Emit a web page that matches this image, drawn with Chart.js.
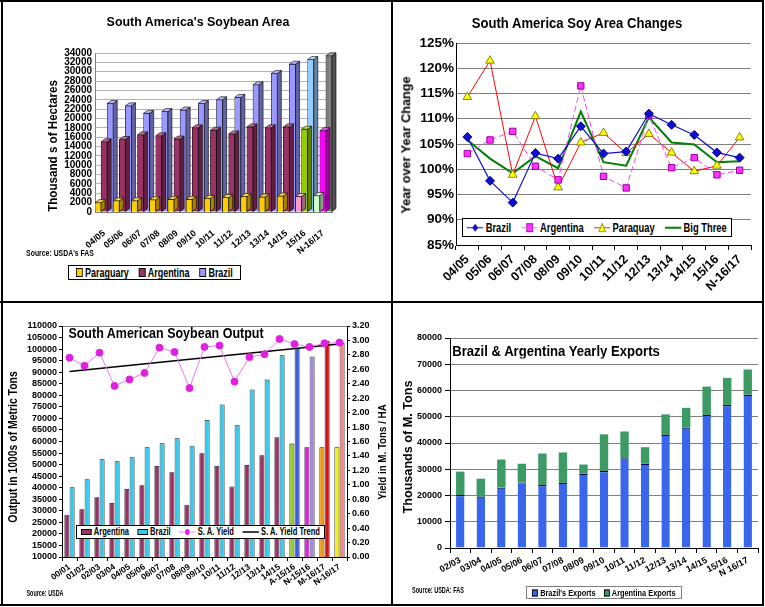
<!DOCTYPE html>
<html>
<head>
<meta charset="utf-8">
<script src="https://cdn.jsdelivr.net/npm/chart.js@4.4.1/dist/chart.umd.min.js"></script>
<style>
html, body { margin: 0; padding: 0; background: #fff; }
#page { position: relative; width: 765px; height: 607px; overflow: hidden; font-family: "Liberation Sans", Arial, sans-serif; }
#page canvas { position: absolute; }
.rule { position: absolute; background: #000; }
.t { position: absolute; white-space: nowrap; font-weight: bold; line-height: 1; color: #000; transform-origin: center center; }
.lg { position: absolute; border: 1px solid #000; background: #fff; box-sizing: border-box; overflow: hidden; }
.lgi { position: absolute; display: flex; align-items: center; white-space: nowrap; font-weight: bold; line-height: 1; transform-origin: left center; }
</style>
</head>
<body>
<div id="page">
  <canvas id="area" width="388" height="299" style="left:3px;top:2px"></canvas>
  <canvas id="change" width="367" height="300" style="left:394px;top:2px"></canvas>
  <canvas id="output" width="388" height="300" style="left:3px;top:304px"></canvas>
  <canvas id="exports" width="367" height="300" style="left:394px;top:304px"></canvas>
</div>
<script>
// soybean area, 1000 ha
const areaYears = ['04/05', '05/06', '06/07', '07/08', '08/09', '09/10', '10/11', '11/12', '12/13', '13/14', '14/15', '15/16', 'N-16/17'];
const areaParaguay = [2000, 2400, 2400, 2600, 2700, 2700, 2900, 3100, 3300, 3200, 3400, 3300, 3500];
const areaArgentina = [15000, 15500, 16500, 16300, 15600, 18000, 17500, 16700, 18200, 18000, 18200, 17700, 17400];
const areaBrazil = [23200, 22700, 21100, 21500, 21800, 23200, 24000, 24500, 27200, 29600, 31600, 32600, 33400];

// year over year change, %
const chgBrazil = [106.4, 97.7, 93.4, 103.2, 102.1, 108.5, 103.1, 103.5, 111.0, 108.8, 106.8, 103.3, 102.3];
const chgArgentina = [103.1, 105.8, 107.5, 100.6, 97.9, 116.5, 98.6, 96.3, 110.6, 100.3, 102.3, 98.9, 99.8];
const chgParaguay = [114.3, 121.5, 98.9, 110.5, 96.4, 105.3, 107.2, 103.2, 107.0, 103.3, 99.6, 100.7, 106.3];
const chgBigThree = [105.8, 102.1, 99.2, 102.6, 100.2, 111.4, 101.4, 100.7, 110.3, 105.3, 104.9, 101.4, 101.6];

// output, 1000 t, and yield t/ha
const outYears = ['00/01', '01/02', '02/03', '03/04', '04/05', '05/06', '06/07', '07/08', '08/09', '09/10', '10/11', '11/12', '12/13', '13/14', '14/15', 'A-15/16', 'N-15/16', 'M-16/17', 'N-16/17'];
const outArgentina = [28300, 30700, 35900, 33400, 39500, 41100, 49400, 46700, 32600, 54900, 49400, 40500, 49900, 54000, 61800, 59100, 57500, 57500, 57500];
const outBrazil = [40200, 43700, 52300, 51400, 53200, 57500, 59200, 61400, 58200, 69300, 76000, 67000, 82500, 86800, 97300, 100500, 96800, 103500, 102700];
const yieldSA = [2.76, 2.65, 2.83, 2.37, 2.46, 2.55, 2.90, 2.84, 2.34, 2.91, 2.93, 2.43, 2.77, 2.81, 3.02, 2.95, 2.91, 2.96, 2.97];
const yieldTrend = [2.57, null, null, null, null, null, null, null, null, null, null, null, null, null, null, null, null, null, 2.95];

// exports, 1000 t
const expYears = ['02/03', '03/04', '04/05', '05/06', '06/07', '07/08', '08/09', '09/10', '10/11', '11/12', '12/13', '13/14', '14/15', '15/16', 'N 16/17'];
const expBrazil = [20200, 19600, 23000, 25000, 24000, 24800, 28300, 29300, 34200, 32100, 43100, 45900, 50700, 54500, 58400];
const expArgentina = [8900, 6800, 10700, 7100, 12000, 11600, 3500, 14000, 10200, 6300, 7800, 7500, 10800, 10300, 9600];

Chart.defaults.font.family = '"Liberation Sans", Arial, sans-serif';
Chart.defaults.color = '#000';
Chart.defaults.plugins.legend.display = false;
Chart.defaults.plugins.tooltip.enabled = false;

const page = document.getElementById('page');
const plain = v => String(v); // no thousands separator

// base colour for every bar, the last ones get their own
function paint(n, base, last) {
    const out = [];
    for (let i = 0; i < n; i++) out.push(base);
    last.forEach((c, j) => { out[n - last.length + j] = c; });
    return out;
}

function shade(hex, f) {
    const n = parseInt(hex.slice(1), 16);
    let r = n >> 16 & 255, g = n >> 8 & 255, b = n & 255;
    if (f < 0) { r *= 1 + f; g *= 1 + f; b *= 1 + f; }
    else { r += (255 - r) * f; g += (255 - g) * f; b += (255 - b) * f; }
    return 'rgb(' + (r | 0) + ',' + (g | 0) + ',' + (b | 0) + ')';
}

// fake 3d: side and top faces on each bar
const depth3d = {
    id: 'depth3d',
    afterDatasetDraw(chart, args) {
        const ctx = chart.ctx;
        const dx = 4, dy = 3;
        args.meta.data.forEach(bar => {
            const p = bar.getProps(['x', 'y', 'base', 'width'], true);
            const l = p.x - p.width / 2, r = p.x + p.width / 2;
            const top = Math.min(p.y, p.base), bot = Math.max(p.y, p.base);
            const col = bar.options.backgroundColor;
            ctx.save();
            ctx.lineWidth = 0.6;
            ctx.strokeStyle = '#000';
            ctx.fillStyle = shade(col, -0.35);
            ctx.beginPath();
            ctx.moveTo(r, top); ctx.lineTo(r + dx, top - dy); ctx.lineTo(r + dx, bot - dy); ctx.lineTo(r, bot);
            ctx.closePath(); ctx.fill(); ctx.stroke();
            ctx.fillStyle = shade(col, 0.3);
            ctx.beginPath();
            ctx.moveTo(l, top); ctx.lineTo(l + dx, top - dy); ctx.lineTo(r + dx, top - dy); ctx.lineTo(r, top);
            ctx.closePath(); ctx.fill(); ctx.stroke();
            ctx.restore();
        });
    }
};

new Chart(document.getElementById('area'), {
    type: 'bar',
    data: {
        labels: areaYears,
        datasets: [
            { label: 'Paraguary', data: areaParaguay, backgroundColor: paint(areaYears.length, '#FFCC00', ['#FF99CC', '#CCFFCC']) },
            { label: 'Argentina', data: areaArgentina, backgroundColor: paint(areaYears.length, '#993366', ['#99CC00', '#FF00FF']) },
            { label: 'Brazil', data: areaBrazil, backgroundColor: paint(areaYears.length, '#9999FF', ['#99CCFF', '#808080']) }
        ]
    },
    options: {
        responsive: false,
        animation: false,
        layout: { padding: { left: 0, top: 51, right: 59, bottom: 0 } },
        datasets: { bar: { categoryPercentage: 1, barPercentage: 1, borderColor: '#000', borderWidth: 0.6 } },
        scales: {
            x: {
                grid: { display: false },
                border: { color: '#808080' },
                ticks: { font: { size: 9, weight: 'bold' }, minRotation: 40, maxRotation: 40, autoSkip: false, padding: 8 },
                afterFit: s => { s.height = 89; }
            },
            y: {
                min: 0, max: 34000,
                ticks: { stepSize: 2000, autoSkip: false, padding: 3, font: { size: 10, weight: 'bold' }, callback: plain },
                grid: { color: '#b4b4b4', drawTicks: false },
                border: { color: '#808080' },
                afterFit: s => { s.width = 92; }
            }
        }
    },
    plugins: [depth3d]
});

new Chart(document.getElementById('change'), {
    type: 'line',
    data: {
        labels: areaYears,
        datasets: [
            { label: 'Brazil', data: chgBrazil, borderColor: '#1010CC', borderWidth: 1.2, pointStyle: 'rectRot', pointRadius: 4.5, pointBackgroundColor: '#1010CC', pointBorderColor: '#000099', pointBorderWidth: 1 },
            { label: 'Argentina', data: chgArgentina, borderColor: '#FF44FF', borderWidth: 1, borderDash: [6, 3], pointStyle: 'rect', pointRadius: 4.5, pointBackgroundColor: '#FF33FF', pointBorderColor: '#990099', pointBorderWidth: 1 },
            { label: 'Paraquay', data: chgParaguay, borderColor: '#FF0000', borderWidth: 1, pointStyle: 'triangle', pointRadius: 5, pointBackgroundColor: '#FFFF00', pointBorderColor: '#6b6b00', pointBorderWidth: 0.8 },
            { label: 'Big Three', data: chgBigThree, borderColor: '#008000', borderWidth: 2, pointRadius: 0 }
        ]
    },
    options: {
        responsive: false,
        animation: false,
        layout: { padding: { left: 0, top: 41, right: 10, bottom: 0 } },
        scales: {
            x: {
                offset: true,
                grid: { offset: true, drawOnChartArea: false, tickLength: 5, color: '#000' },
                border: { color: '#000' },
                ticks: { font: { size: 12.5, weight: 'bold' }, minRotation: 45, maxRotation: 45, autoSkip: false, padding: 2 },
                afterFit: s => { s.height = 57; }
            },
            y: {
                min: 85, max: 125,
                ticks: { stepSize: 5, padding: 2, font: { size: 13.5, weight: 'bold' }, callback: v => v + '%' },
                grid: { color: '#808080', drawTicks: false },
                border: { color: '#000' },
                afterFit: s => { s.width = 62; }
            }
        }
    }
});

new Chart(document.getElementById('output'), {
    type: 'bar',
    data: {
        labels: outYears,
        datasets: [
            { type: 'line', label: 'S. A. Yield', data: yieldSA, yAxisID: 'y1', order: 0, borderColor: '#EE77EE', borderWidth: 1, pointRadius: 3.5, pointBackgroundColor: '#E020E0', pointBorderColor: '#E020E0' },
            { type: 'line', label: 'S. A. Yield Trend', data: yieldTrend, yAxisID: 'y1', order: 0, borderColor: '#000', borderWidth: 1.5, pointRadius: 0, spanGaps: true },
            { label: 'Argentina', data: outArgentina, yAxisID: 'y', order: 1, backgroundColor: paint(outYears.length, '#993366', ['#99CC33', '#E020E0', '#F59A10', '#F2F21A']) },
            { label: 'Brazil', data: outBrazil, yAxisID: 'y', order: 1, backgroundColor: paint(outYears.length, '#33CCEE', ['#3A5FD8', '#A08CD8', '#D01818', '#F08888']) }
        ]
    },
    options: {
        responsive: false,
        animation: false,
        layout: { padding: { left: 0, top: 22, right: 0, bottom: 0 } },
        datasets: { bar: { categoryPercentage: 0.7, barPercentage: 0.95, borderColor: '#111', borderWidth: 0.8 } },
        scales: {
            x: {
                grid: { offset: true, drawOnChartArea: false, tickLength: 4, color: '#000' },
                border: { color: '#000' },
                ticks: { font: { size: 8.5, weight: 'bold' }, minRotation: 35, maxRotation: 35, autoSkip: false, padding: 1 },
                afterFit: s => { s.height = 47; }
            },
            y: {
                position: 'left',
                min: 10000, max: 110000,
                ticks: { stepSize: 5000, autoSkip: false, padding: 2, font: { size: 9, weight: 'bold' }, callback: plain },
                grid: { color: c => (c.tick && c.tick.value === 110000 ? '#808080' : 'rgba(0,0,0,0)'), tickColor: '#000', tickLength: 3 },
                border: { color: '#000' },
                afterFit: s => { s.width = 59; }
            },
            y1: {
                position: 'right',
                min: 0, max: 3.2,
                ticks: { stepSize: 0.2, autoSkip: false, padding: 2, font: { size: 9, weight: 'bold' }, callback: v => v.toFixed(2) },
                grid: { drawOnChartArea: false, tickColor: '#000', tickLength: 3 },
                border: { color: '#000' },
                afterFit: s => { s.width = 44; }
            }
        }
    }
});

new Chart(document.getElementById('exports'), {
    type: 'bar',
    data: {
        labels: expYears,
        datasets: [
            { label: "Brazil's Exports", data: expBrazil, backgroundColor: '#3A66EE', borderColor: '#000055', borderWidth: { top: 1.2, left: 0, right: 0, bottom: 0 } },
            { label: 'Argentina Exports', data: expArgentina, backgroundColor: '#3C9A64', borderWidth: 0 }
        ]
    },
    options: {
        responsive: false,
        animation: false,
        layout: { padding: { left: 0, top: 34, right: 3, bottom: 0 } },
        datasets: { bar: { categoryPercentage: 0.5, barPercentage: 0.82 } },
        scales: {
            x: {
                stacked: true,
                grid: { offset: true, drawOnChartArea: false, tickLength: 5, color: '#000' },
                border: { color: '#000' },
                ticks: { font: { size: 9, weight: 'bold' }, minRotation: 28, maxRotation: 28, autoSkip: false, padding: 2 },
                afterFit: s => { s.height = 56; }
            },
            y: {
                stacked: true,
                min: 0, max: 80000,
                ticks: { stepSize: 10000, padding: 3, font: { size: 9, weight: 'bold' }, callback: plain },
                grid: { color: '#808080', tickColor: '#000', tickLength: 5 },
                border: { color: '#000' },
                afterFit: s => { s.width = 56; }
            }
        }
    }
});

// text placed by its centre, squeezed to the width it has in the picture
function put(text, cx, cy, size, w, rot) {
    const el = document.createElement('div');
    el.className = 't';
    el.style.fontSize = size + 'px';
    el.textContent = text;
    page.appendChild(el);
    const k = w / el.offsetWidth;
    el.style.left = cx + 'px';
    el.style.top = cy + 'px';
    el.style.transform = 'translate(-50%,-50%) rotate(' + (rot || 0) + 'deg) scaleX(' + k + ')';
}

function legend(x, y, w, h, items, size, pad, edge) {
    const box = document.createElement('div');
    box.className = 'lg';
    box.style.left = x + 'px';
    box.style.top = y + 'px';
    box.style.width = w + 'px';
    box.style.height = h + 'px';
    if (edge) box.style.borderColor = edge;
    const row = document.createElement('div');
    row.className = 'lgi';
    row.style.fontSize = size + 'px';
    items.forEach((it, i) => {
        const s = document.createElement('span');
        s.style.display = 'flex';
        s.style.alignItems = 'center';
        s.style.marginRight = i < items.length - 1 ? '1.1em' : '0';
        s.innerHTML = it[0] + '<span style="margin-left:3px">' + it[1] + '</span>';
        row.appendChild(s);
    });
    box.appendChild(row);
    page.appendChild(box);
    const k = (w - 2 - 2 * pad) / row.scrollWidth;
    row.style.left = pad + 'px';
    row.style.top = ((h - 2) / 2) + 'px';
    row.style.transform = 'translateY(-50%) scaleX(' + k + ')';
}

function swatch(c, w, h) {
    return '<i style="display:inline-block;width:' + w + 'px;height:' + h + 'px;background:' + c + ';border:1px solid #000"></i>';
}

function lineMark(c, width, dash, mark) {
    return '<svg width="22" height="10" style="display:block"><line x1="0" y1="5" x2="22" y2="5" stroke="' + c + '" stroke-width="' + width + '"' +
        (dash ? ' stroke-dasharray="' + dash + '"' : '') + '/>' + (mark || '') + '</svg>';
}

put("South America's Soybean Area", 198, 22, 13.5, 183);
put('Thousand s of Hectares', 53, 146, 12.5, 132, -90);
put("Source: USDA's FAS", 60, 253, 8.5, 68);
legend(68, 265, 173, 15, [
    [swatch('#FFCC00', 7, 7), 'Paraguary'],
    [swatch('#993366', 7, 7), 'Argentina'],
    [swatch('#9999FF', 7, 7), 'Brazil']
], 12, 7);

put('South America Soy Area Changes', 577, 23, 14, 210);
put('Year over Year Change', 406, 145, 13.5, 137, -90);
legend(462, 218, 270, 19, [
    [lineMark('#1010CC', 1.2, '', '<path d="M11 1 L15 5 L11 9 L7 5Z" fill="#1010CC"/>'), 'Brazil'],
    [lineMark('#FF44FF', 1, '5,3', '<rect x="7" y="1" width="8" height="8" fill="#FF33FF" stroke="#990099"/>'), 'Argentina'],
    [lineMark('#FF0000', 1, '', '<path d="M11 0.5 L15.5 9 L6.5 9Z" fill="#FFFF00" stroke="#6b6b00" stroke-width="0.8"/>'), 'Paraquay'],
    [lineMark('#008000', 2, ''), 'Big Three']
], 12.5, 4);

put('South American Soybean Output', 165.5, 333, 15.5, 195);
put('Output in 1000s of Metric Tons', 12.5, 447, 12, 151, -90);
put('Yield in M. Tons / HA', 382.5, 452, 11.5, 95, -90);
put('Source: USDA', 44.5, 593, 8.5, 37);
legend(76, 525, 249, 14, [
    [swatch('#993366', 12, 4), 'Argentina'],
    [swatch('#33CCEE', 12, 4), 'Brazil'],
    [lineMark('#EE77EE', 1, '', '<circle cx="11" cy="5" r="3" fill="#E020E0"/>'), 'S. A. Yield'],
    [lineMark('#000', 1.5, ''), 'S. A. Yield Trend']
], 10, 4);

put('Brazil & Argentina Yearly Exports', 556, 350, 15, 208);
put('Thousands of M. Tons', 406.5, 447, 13, 133, -90);
put('Source: USDA: FAS', 437.5, 590, 8.5, 52);
legend(526, 586, 156, 13, [
    [swatch('#3A66EE', 5, 5), "Brazil's Exports"],
    [swatch('#3C9A64', 5, 5), 'Argentina Exports']
], 9, 5, '#808080');

// frame and panel dividers
[[1, 0, 2, 606], [0, 0, 764, 2], [762, 0, 2, 606], [0, 604, 764, 2], [391, 0, 2, 606], [0, 301, 764, 2]].forEach(r => {
    const d = document.createElement('div');
    d.className = 'rule';
    d.style.left = r[0] + 'px';
    d.style.top = r[1] + 'px';
    d.style.width = r[2] + 'px';
    d.style.height = r[3] + 'px';
    page.appendChild(d);
});
</script>
</body>
</html>
